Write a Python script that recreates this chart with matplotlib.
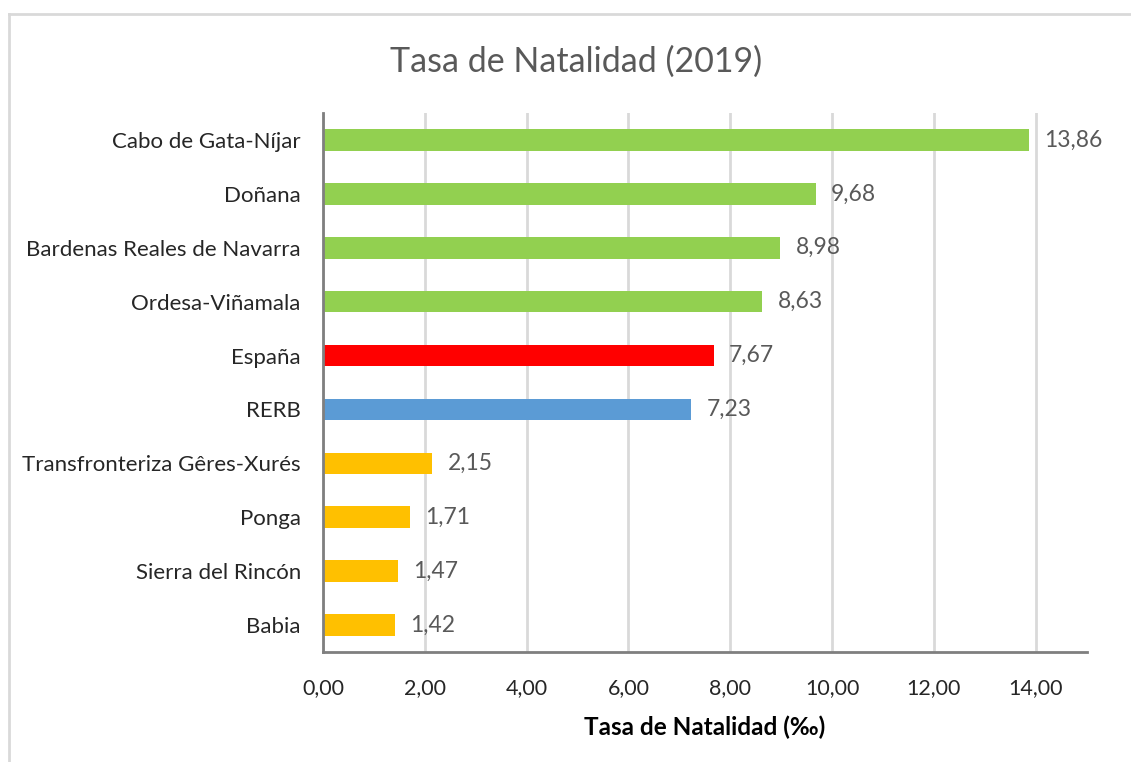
import matplotlib
matplotlib.use("Agg")
import matplotlib.pyplot as plt
from matplotlib.lines import Line2D

categories = ["Cabo de Gata-Níjar", "Doñana", "Bardenas Reales de Navarra",
              "Ordesa-Viñamala", "España", "RERB",
              "Transfronteriza Gêres-Xurés", "Ponga", "Sierra del Rincón", "Babia"]
values = [13.86, 9.68, 8.98, 8.63, 7.67, 7.23, 2.15, 1.71, 1.47, 1.42]
colors = ["#92D050", "#92D050", "#92D050", "#92D050", "#FF0000", "#5B9BD5",
          "#FFC000", "#FFC000", "#FFC000", "#FFC000"]
xticks = [0, 2, 4, 6, 8, 10, 12, 14]

plt.rcParams['font.family'] = ['Lato', 'DejaVu Sans']

W, H = 1131, 762
fig = plt.figure(figsize=(W / 100, H / 100), dpi=100)
ax = fig.add_axes([323 / W, 1 - 652 / H, (1086.7 - 323) / W, (652 - 113) / H])

y = list(range(len(categories)))
ax.barh(y, values, height=0.4, color=colors, zorder=3)
ax.set_ylim(len(categories) - 0.5, -0.5)
ax.set_xlim(0, 15)
ax.set_yticks(y)
ax.set_yticklabels(categories, fontsize=16, color="#262626")
ax.set_xticks(xticks)
ax.set_xticklabels([f"{t:.2f}".replace(".", ",") for t in xticks], fontsize=15.5, color="#262626")
ax.tick_params(axis="y", length=0, pad=16)
ax.tick_params(axis="x", length=0, pad=19)

for yi, v in zip(y, values):
    ax.annotate(f"{v:.2f}".replace(".", ","), xy=(v, yi), xytext=(11, 0),
                textcoords="offset points", va="center", ha="left",
                fontsize=16.5, color="#595959")

ax.grid(axis="x", color="#d9d9d9", linewidth=2, zorder=0)
for s in ["top", "right"]:
    ax.spines[s].set_visible(False)
for s in ["left", "bottom"]:
    ax.spines[s].set_color("#7f7f7f")
    ax.spines[s].set_linewidth(2)
    ax.spines[s].set_zorder(4)

ax.set_xlabel("Tasa de Natalidad (‰)", fontsize=17.5, fontweight="bold", color="black", labelpad=12)
fig.text(576 / W, 1 - 62 / H, "Tasa de Natalidad (2019)", fontsize=24.5, color="#595959",
         ha="center", va="center")

fig.add_artist(Line2D([9 / W, 9 / W], [0, 1 - 14 / H], color="#d9d9d9", linewidth=2,
                      transform=fig.transFigure))
fig.add_artist(Line2D([9 / W, 1], [1 - 14 / H, 1 - 14 / H], color="#d9d9d9", linewidth=2,
                      transform=fig.transFigure))

fig.savefig("out.png", dpi=100)
